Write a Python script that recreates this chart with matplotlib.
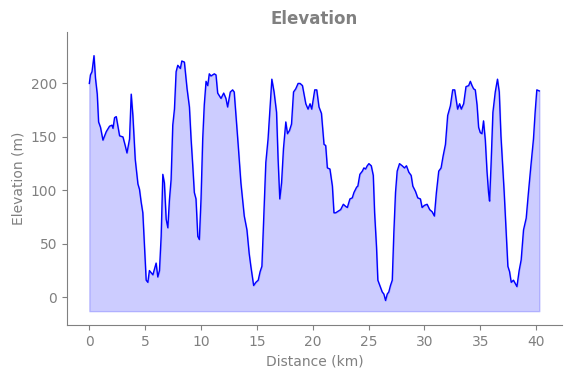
import matplotlib.pyplot as plt

# Elevation profile
distance_km = [
    0.0, 0.1, 0.24, 0.42, 0.55, 0.71, 0.83, 1.0, 1.22, 1.52, 1.81, 2.03, 2.12, 2.26, 2.41,
    2.71, 3.01, 3.21, 3.37, 3.6, 3.75, 3.9, 4.11, 4.35, 4.49, 4.64, 4.79, 4.94, 5.09, 5.24,
    5.38, 5.69, 5.98, 6.13, 6.28, 6.43, 6.58, 6.72, 6.88, 7.03, 7.17, 7.32, 7.47, 7.62, 7.77,
    7.92, 8.15, 8.28, 8.51, 8.75, 8.96, 9.11, 9.26, 9.4, 9.55, 9.71, 9.85, 10.0, 10.15, 10.29,
    10.45, 10.6, 10.74, 10.89, 11.19, 11.34, 11.49, 11.79, 12.03, 12.23, 12.38, 12.62, 12.83,
    12.97, 13.13, 13.33, 13.57, 13.87, 14.11, 14.31, 14.46, 14.71, 14.91, 15.12, 15.29, 15.45,
    15.65, 15.8, 16.0, 16.19, 16.34, 16.54, 16.76, 16.9, 17.05, 17.21, 17.38, 17.59, 17.74,
    17.92, 18.1, 18.28, 18.48, 18.69, 18.87, 19.08, 19.38, 19.58, 19.76, 19.91, 20.18, 20.36,
    20.56, 20.78, 21.01, 21.16, 21.31, 21.54, 21.76, 21.9, 22.05, 22.35, 22.5, 22.74, 22.95,
    23.1, 23.33, 23.54, 23.69, 23.93, 24.04, 24.22, 24.44, 24.58, 24.73, 24.88, 25.03, 25.24,
    25.42, 25.54, 25.71, 25.83, 26.01, 26.22, 26.37, 26.52, 26.67, 26.81, 26.96, 27.12, 27.26,
    27.41, 27.56, 27.77, 28.01, 28.21, 28.39, 28.6, 28.81, 28.96, 29.2, 29.4, 29.64, 29.79,
    30.0, 30.24, 30.47, 30.69, 30.89, 31.07, 31.28, 31.49, 31.67, 31.88, 32.08, 32.32, 32.53,
    32.71, 32.97, 33.15, 33.3, 33.51, 33.72, 33.96, 34.11, 34.26, 34.4, 34.55, 34.71, 34.85,
    35.0, 35.15, 35.29, 35.45, 35.6, 35.74, 35.83, 35.96, 36.13, 36.34, 36.54, 36.7, 36.85,
    36.99, 37.14, 37.32, 37.47, 37.62, 37.77, 37.97, 38.13, 38.28, 38.48, 38.66, 38.87, 39.11,
    39.31, 39.53, 39.76, 39.91, 40.06, 40.29,
]
elevation_m = [
    200, 208, 211, 226, 205, 190, 164, 159, 147, 155, 160, 161, 158, 168, 169,
    151, 150, 142, 135, 148, 190, 170, 129, 106, 101, 89, 79, 47, 16, 14,
    25, 21, 32, 19, 25, 57, 115, 107, 73, 65, 91, 110, 161, 176, 211,
    217, 214, 221, 220, 195, 178, 148, 123, 98, 92, 57, 54, 92, 148, 180,
    202, 198, 209, 207, 209, 208, 191, 186, 191, 186, 178, 192, 194,
    192, 170, 142, 107, 76, 63, 41, 29, 11, 14, 16, 24, 29,
    85, 126, 148, 180, 204, 192, 173, 129, 92, 107, 139, 164, 153,
    156, 162, 192, 195, 200, 200, 198, 181, 176, 181, 176, 194, 194,
    178, 172, 143, 142, 121, 120, 104, 79, 79, 81, 82, 87, 85,
    84, 92, 93, 98, 103, 104, 115, 118, 121, 120, 123, 125, 123,
    114, 79, 47, 16, 11, 5, 3, -3, 3, 5, 11, 16, 60,
    98, 118, 125, 123, 121, 123, 117, 114, 104, 99, 93, 92, 84,
    86, 87, 82, 80, 76, 98, 118, 121, 132, 143, 170, 179, 194,
    194, 176, 181, 176, 181, 197, 198, 202, 198, 195, 194, 180, 159,
    154, 153, 165, 147, 118, 98, 90, 123, 173, 192, 204, 192, 151,
    126, 98, 60, 29, 24, 14, 16, 13, 10, 25, 35, 63, 74,
    98, 123, 148, 173, 194, 193,
]

grey = '#808080'

fig, ax = plt.subplots(figsize=(5.71, 3.78), dpi=100)
fig.subplots_adjust(left=0.117, right=0.984, bottom=0.14, top=0.915)

ax.plot(distance_km, elevation_m, color='blue', linewidth=1)
base = min(elevation_m) - 10
ax.fill_between(distance_km, elevation_m, base, color='blue', alpha=0.2)

ax.set_ylim(-26, 248)
ax.set_title('Elevation', color=grey, fontweight='bold', fontsize=12)
ax.set_xlabel('Distance (km)', color=grey)
ax.set_ylabel('Elevation (m)', color=grey)
ax.tick_params(colors=grey)
for side in ['top', 'right']:
    ax.spines[side].set_visible(False)
for side in ['left', 'bottom']:
    ax.spines[side].set_color(grey)

plt.savefig('out.png', dpi=100)
